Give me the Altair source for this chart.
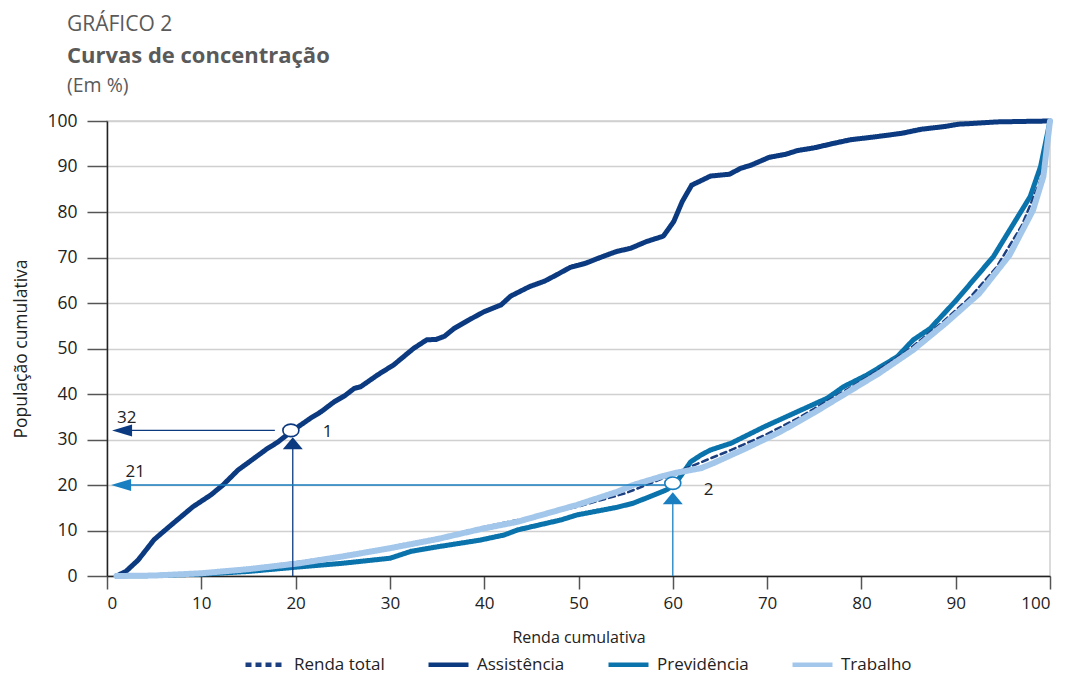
import altair as alt
import pandas as pd

FONT = "Open Sans"

# ---- data ----
series_names = ["Renda total", "Assistência", "Previdência", "Trabalho"]

assist_x = [1, 2, 3.3, 5, 6.8, 9.1, 11, 12.3, 13.9, 14.9, 17, 18.1, 19.5, 21.6, 22.7, 24.1, 25.2, 26.2, 26.9,
            28.7, 30.4, 32.5, 33.9, 34.9, 35.8, 36.8, 38.4, 40, 41.8, 42.8, 44.8, 46.4, 47.6, 49.1, 50.7, 52.3,
            54, 55.5, 57.2, 59, 60.1, 61, 62, 64, 66, 67.2, 68.3, 70.2, 72, 73.2, 75, 77.1, 78.9, 81.4, 84.3,
            86.4, 88.9, 90.3, 92.1, 94.3, 97, 100]
assist_y = [0, 1, 3.5, 8, 11.2, 15.2, 17.8, 20, 23.3, 24.8, 28, 29.4, 31.7, 34.7, 36.1, 38.3, 39.6, 41.2, 41.6,
            44.2, 46.4, 50, 51.9, 52, 52.7, 54.4, 56.3, 58.1, 59.6, 61.5, 63.6, 64.8, 66.1, 67.8, 68.7, 70,
            71.3, 72, 73.5, 74.7, 77.9, 82.3, 85.9, 87.9, 88.3, 89.6, 90.3, 92, 92.7, 93.5, 94.1, 95.1, 95.9,
            96.5, 97.3, 98.2, 98.8, 99.3, 99.5, 99.8, 99.9, 100]

prev_x = [1, 5, 10, 15, 20.4, 25, 30, 32.2, 34.7, 39.6, 42.1, 43.5, 48.1, 49.8, 54.1, 55.8, 58, 59.4, 60.3,
          61.9, 63, 64, 66.2, 69.7, 73.2, 76.4, 78.1, 80.6, 83.8, 85.5, 87.3, 90.1, 94, 97.9, 99, 100]
prev_y = [0, 0.1, 0.4, 1, 2, 2.8, 3.9, 5.4, 6.3, 7.9, 9, 10.1, 12.3, 13.4, 15.1, 16, 17.8, 19, 20.4,
          25.1, 26.6, 27.7, 29.2, 32.8, 36.1, 39.1, 41.6, 44.2, 48.2, 51.9, 54.4, 60.7, 70.2, 83.4, 90, 100]

trab_x = [1, 5, 10, 15, 20.4, 25, 30, 35, 39.6, 43.5, 49.8, 54.1, 55.8, 59, 60.4, 63, 64.3, 67.8, 71.4,
          74.9, 78.4, 81.9, 85.5, 88.9, 92.5, 95.7, 98.2, 99.3, 100]
trab_y = [0, 0.1, 0.6, 1.5, 2.8, 4.3, 6.1, 8.1, 10.3, 11.9, 15.6, 18.5, 20, 22, 22.7, 23.7, 24.8, 28.1, 31.7,
          35.8, 40.2, 44.6, 49.7, 55.5, 62.1, 70.5, 80.4, 87.8, 100]

total_x = [1, 5, 10, 15, 20, 25, 30, 35, 40, 45, 50, 55, 59, 61.8, 66.2, 69.7, 73.2, 77.1, 80.6, 84.8,
           88.4, 91.5, 94.3, 97, 99, 100]
total_y = [0, 0.15, 0.7, 1.7, 3, 4.5, 6.3, 8.3, 10.8, 12.9, 15.3, 18.2, 21.5, 24, 27.7, 30.9, 34.6, 39.3,
           43.6, 49.4, 55.4, 61.2, 67.8, 77, 87, 100]

# annotation values
marker_x = [19.5, 60]
marker_y = [32, 20.4]
hline_y = [32, 20]
hline_x = [2.6, 2.4]
hline_x2 = [17.8, 59.2]
vline_x = [19.7, 60]
vline_y2 = [28.1, 16.1]
left_head_x = [1.6, 1.5]
up_head_y = [29.2, 17.1]
label_text = ["32", "21", "1", "2"]
label_x = [2.1, 3.0, 23.4, 63.8]
label_y = [34.7, 22.9, 31.7, 18.9]

colors = ["#1c3f80", "#0c3a80", "#0a73ac", "#a3c7ea"]
ann_colors = ["#0c3a80", "#1a7fc1"]

# ---- tables ----
rows = []
for name, xs, ys in [("Renda total", total_x, total_y), ("Assistência", assist_x, assist_y),
                     ("Previdência", prev_x, prev_y), ("Trabalho", trab_x, trab_y)]:
    for a, b in zip(xs, ys):
        rows.append({"serie": name, "x": a, "y": b})
df = pd.DataFrame(rows)

xscale = alt.Scale(domain=[0, 100], nice=False, zero=False)
yscale = alt.Scale(domain=[0, 100], nice=False)

legend_kw = dict(title=None, orient="none", direction="horizontal", legendX=136, legendY=521,
                 symbolType="stroke", symbolSize=1600, symbolStrokeWidth=4.5, labelFontSize=17,
                 labelFont=FONT, labelColor="#222", columnPadding=34, labelOffset=6)
color_enc = alt.Color("serie:N", scale=alt.Scale(domain=series_names, range=colors),
                      legend=alt.Legend(**legend_kw))
dash_enc = alt.StrokeDash("serie:N",
                          scale=alt.Scale(domain=series_names, range=[[6, 4], [1, 0], [1, 0], [1, 0]]),
                          legend=alt.Legend(**legend_kw))

base = alt.Chart(df)


def series_layer(name, width):
    return base.transform_filter(alt.datum.serie == name).mark_line(
        strokeWidth=width, strokeCap="round", strokeJoin="round").encode(
        x=alt.X("x:Q", scale=xscale,
                axis=alt.Axis(values=list(range(0, 101, 10)), title="Renda cumulativa", grid=False,
                              tickSize=13, tickColor="#555", tickWidth=1.5, domainColor="#222",
                              domainWidth=1.5, labelFontSize=17, labelFont=FONT, labelColor="#222",
                              labelPadding=6, titleFontSize=16, titleFont=FONT, titleColor="#222",
                              titleFontWeight="normal", titleY=61, titleBaseline="middle")),
        y=alt.Y("y:Q", scale=yscale,
                axis=alt.Axis(values=list(range(0, 101, 10)), title="População cumulativa", grid=True,
                              gridColor="#d0d0d0", gridWidth=1.5, tickSize=20, tickColor="#555",
                              tickWidth=1.5, domainColor="#222", domainWidth=1.5, labelFontSize=17.5,
                              labelFont=FONT, labelColor="#222", labelPadding=10, titleFontSize=17.5,
                              titleFont=FONT, titleColor="#222", titleFontWeight="normal",
                              titleX=-86, titleBaseline="middle")),
        color=color_enc,
        strokeDash=dash_enc,
        order="x:Q",
    )


lines = [series_layer("Assistência", 5), series_layer("Previdência", 5),
         series_layer("Renda total", 2.5), series_layer("Trabalho", 6)]

ann_layers = []
for i, col in enumerate(ann_colors):
    d = pd.DataFrame({"hx": [hline_x[i]], "hx2": [hline_x2[i]], "hy": [hline_y[i]],
                      "vx": [vline_x[i]], "vy0": [0], "vy2": [vline_y2[i]],
                      "lhx": [left_head_x[i]], "uhy": [up_head_y[i]],
                      "mx": [marker_x[i]], "my": [marker_y[i]]})
    c = alt.Chart(d)
    ann_layers.append(c.mark_rule(color=col, strokeWidth=1.3).encode(
        x=alt.X("hx:Q", scale=xscale), x2="hx2:Q", y=alt.Y("hy:Q", scale=yscale)))
    ann_layers.append(c.mark_rule(color=col, strokeWidth=1.3).encode(
        x=alt.X("vx:Q", scale=xscale), y=alt.Y("vy0:Q", scale=yscale), y2="vy2:Q"))
    ann_layers.append(c.mark_point(shape="M -1 0 L 1 -0.6 L 1 0.6 Z", size=400, filled=True,
                                   color=col, opacity=1).encode(
        x=alt.X("lhx:Q", scale=xscale), y=alt.Y("hy:Q", scale=yscale)))
    ann_layers.append(c.mark_point(shape="M 0 -0.6 L 1 0.6 L -1 0.6 Z", size=400, filled=True,
                                   color=col, opacity=1).encode(
        x=alt.X("vx:Q", scale=xscale), y=alt.Y("uhy:Q", scale=yscale)))
    ann_layers.append(c.mark_point(shape="M -1 0 A 1 0.78 0 1 0 1 0 A 1 0.78 0 1 0 -1 0 Z", size=256,
                                   filled=True, fill="white", stroke=col, strokeWidth=1.6,
                                   opacity=1).encode(
        x=alt.X("mx:Q", scale=xscale), y=alt.Y("my:Q", scale=yscale)))

lab_df = pd.DataFrame({"t": label_text, "x": label_x, "y": label_y})
labels = alt.Chart(lab_df).mark_text(fontSize=17, font=FONT, color="#222", align="center",
                                     baseline="middle").encode(
    x=alt.X("x:Q", scale=xscale), y=alt.Y("y:Q", scale=yscale), text="t:N")

title_lines = [("GRÁFICO 2", 21, "normal", -90), ("Curvas de concentração", 22, "bold", -58),
               ("(Em %)", 19.5, "normal", -29)]
titles = []
for txt, fs, fw, yy in title_lines:
    titles.append(alt.Chart(pd.DataFrame({"t": [txt]})).mark_text(
        fontSize=fs, fontWeight=fw, font=FONT, color="#5a5a5a", align="left",
        baseline="alphabetic").encode(text="t:N", x=alt.value(-40), y=alt.value(yy)))

chart = alt.layer(*lines, *ann_layers, labels, *titles).properties(
    width=943, height=455,
    autosize=alt.AutoSizeParams(type="none"),
    padding={"left": 99, "top": 113, "right": 8, "bottom": 99},
).configure_view(stroke="#d0d0d0", strokeWidth=1.5)

chart.save("out.html", embed_options={"renderer": "svg", "actions": False})
